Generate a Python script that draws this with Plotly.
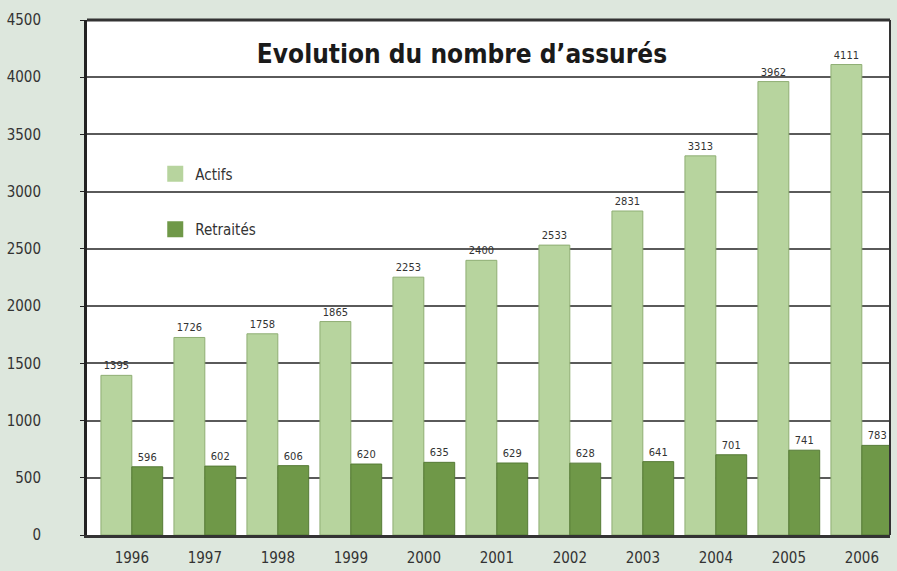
import plotly.graph_objects as go

years = ["1996", "1997", "1998", "1999", "2000", "2001", "2002", "2003", "2004", "2005", "2006"]
actifs = [1395, 1726, 1758, 1865, 2253, 2400, 2533, 2831, 3313, 3962, 4111]
retraites = [596, 602, 606, 620, 635, 629, 628, 641, 701, 741, 783]
y_ticks = [0, 500, 1000, 1500, 2000, 2500, 3000, 3500, 4000, 4500]

c_act = "#b7d49e"
c_ret = "#6f9848"
font_c = "DejaVu Sans Condensed, Liberation Sans Narrow, Arial Narrow, sans-serif"

fig = go.Figure()
fig.add_trace(go.Bar(x=years, y=actifs, name="Actifs", marker=dict(color=c_act, line=dict(color="#8fae74", width=1)),
                     text=[str(v) for v in actifs], textposition="outside",
                     textfont=dict(size=11, color="#333333", family=font_c), cliponaxis=False, showlegend=False))
fig.add_trace(go.Bar(x=years, y=retraites, name="Retraités", marker=dict(color=c_ret, line=dict(color="#557a35", width=1)),
                     text=[str(v) for v in retraites], textposition="outside",
                     textfont=dict(size=11, color="#333333", family=font_c), cliponaxis=False, showlegend=False))
# legend entries
fig.add_trace(go.Scatter(x=[None], y=[None], mode="markers", name="Actifs", legendgroup="a",
                         marker=dict(symbol="square", size=20, color=c_act)))
fig.add_trace(go.Scatter(x=[None], y=[None], mode="markers", name="Retraités", legendgroup="r",
                         marker=dict(symbol="square", size=20, color=c_ret)))

fig.update_layout(
    width=897, height=571,
    margin=dict(l=84, r=7, t=20, b=36),
    paper_bgcolor="#dde7dd",
    plot_bgcolor="#ffffff",
    barmode="group", bargap=0.154, bargroupgap=0.0,
    font=dict(family=font_c, color="#333333"),
    showlegend=True,
    legend=dict(x=0.085, y=0.733, xanchor="left", yanchor="top", bgcolor="rgba(0,0,0,0)",
                font=dict(size=15, color="#333333", family=font_c), tracegroupgap=33),
    title=dict(text="<b>Evolution du nombre d’assurés</b>", x=0.515, xanchor="center", y=0.905, yanchor="middle",
               font=dict(size=26, color="#1a1a1a", family=font_c)),
    xaxis=dict(type="category", range=[-0.614, 10.386], showgrid=False, ticks="",
               tickfont=dict(size=15, color="#333333"), ticklabelstandoff=7, automargin=False,
               showline=True, linecolor="#333333", linewidth=3, mirror=False),
    yaxis=dict(range=[0, 4500], tickvals=y_ticks, ticktext=[str(v) for v in y_ticks],
               tickfont=dict(size=15, color="#333333"), showgrid=True, gridcolor="#5a5a5a", gridwidth=2,
               showline=True, linecolor="#222222", linewidth=3, ticks="outside", ticklen=4, tickcolor="#222222",
               ticklabelstandoff=36, zeroline=False),
)
# frame top and right
fig.add_shape(type="line", xref="paper", yref="paper", x0=0, x1=1, y0=1, y1=1, line=dict(color="#333333", width=3))
fig.add_shape(type="line", xref="paper", yref="paper", x0=1, x1=1, y0=0, y1=1, line=dict(color="#333333", width=2))

fig.write_html("out.html", config={"displayModeBar": False},
               post_script="document.body.style.margin='0';document.body.style.overflow='hidden';")
